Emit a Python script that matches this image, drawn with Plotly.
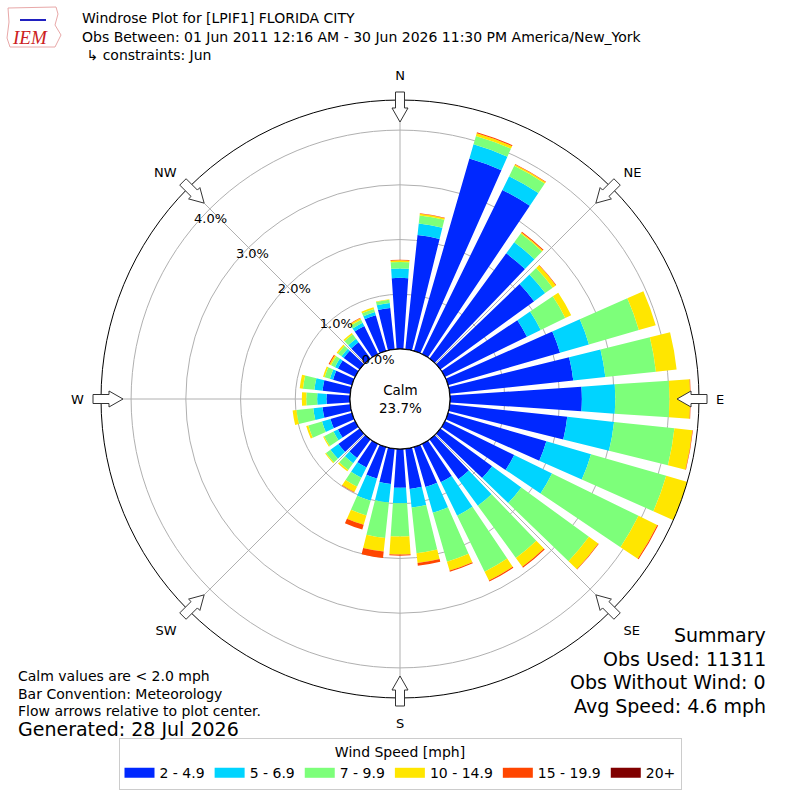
import numpy as np
import plotly.graph_objects as go

# wind rose data: percent of observations per 10 degree direction bin
directions = list(range(0, 360, 10))
speed_bins = ["2 - 4.9", "5 - 6.9", "7 - 9.9", "10 - 14.9", "15 - 19.9", "20+"]
bin_colors = ["#0028ff", "#00d4ff", "#7dff7a", "#ffe600", "#ff4600", "#800000"]

pct_2_5 = [1.30, 2.10, 3.66, 3.34, 2.38, 2.12, 1.67, 2.13, 2.27, 2.41, 2.16, 1.87,
           1.41, 1.17, 0.90, 0.78, 0.76, 0.74, 0.71, 0.65, 0.60, 0.48, 0.42, 0.48,
           0.35, 0.41, 0.51, 0.43, 0.51, 0.36, 0.35, 0.36, 0.37, 0.57, 0.68, 0.76]
pct_5_7 = [0.17, 0.21, 0.27, 0.28, 0.25, 0.25, 0.28, 0.55, 0.59, 0.61, 0.86, 0.85,
           0.77, 0.66, 0.60, 0.68, 0.49, 0.34, 0.28, 0.34, 0.42, 0.21, 0.12, 0.18,
           0.09, 0.16, 0.17, 0.17, 0.15, 0.06, 0.06, 0.05, 0.08, 0.07, 0.06, 0.09]
pct_7_10 = [0.12, 0.15, 0.16, 0.21, 0.20, 0.17, 0.50, 0.95, 0.93, 0.99, 1.11, 1.43,
            1.76, 1.53, 1.18, 1.14, 0.93, 0.84, 0.61, 0.65, 0.28, 0.18, 0.15, 0.10,
            0.19, 0.26, 0.31, 0.20, 0.21, 0.10, 0.08, 0.08, 0.10, 0.06, 0.06, 0.06]
pct_10_15 = [0.03, 0.03, 0.05, 0.03, 0.02, 0.07, 0.12, 0.32, 0.38, 0.38, 0.33, 0.52,
             0.38, 0.21, 0.20, 0.18, 0.17, 0.18, 0.33, 0.25, 0.18, 0.11, 0.03, 0.02,
             0.02, 0.04, 0.07, 0.08, 0.06, 0.03, 0.03, 0.03, 0.03, 0.03, 0.03, 0.01]
pct_15_20 = [0.01, 0.01, 0.02, 0.01, 0.02, 0.01, 0.00, 0.00, 0.00, 0.01, 0.01, 0.02,
             0.02, 0.01, 0.02, 0.02, 0.02, 0.05, 0.02, 0.12, 0.09, 0.01, 0.00, 0.00,
             0.00, 0.00, 0.00, 0.00, 0.00, 0.00, 0.02, 0.00, 0.00, 0.01, 0.00, 0.00]
pct_20_up = [0.0] * 36

calm_pct = 23.7
ring_vals = [0, 1, 2, 3, 4]
ring_label_dir = 310
compass_angles = [0, 45, 90, 135, 180, 225, 270, 315]
compass_labels = ["N", "NE", "E", "SE", "S", "SW", "W", "NW"]

title_lines = [
    "Windrose Plot for [LPIF1] FLORIDA CITY",
    "Obs Between: 01 Jun 2011 12:16 AM - 30 Jun 2026 11:30 PM America/New_York",
    " \u21b3 constraints: Jun",
]
notes_left = ["Calm values are < 2.0 mph", "Bar Convention: Meteorology",
              "Flow arrows relative to plot center."]
summary_lines = ["Summary", "Obs Used: 11311", "Obs Without Wind: 0", "Avg Speed: 4.6 mph"]

RMAX = 4.55
CX, CY, RPX = 400, 399, 299   # polar centre / radius in pixels
HOLE = 50 / RPX

fig = go.Figure()

series = [pct_2_5, pct_5_7, pct_7_10, pct_10_15, pct_15_20, pct_20_up]
for name, color, vals in zip(speed_bins, bin_colors, series):
    fig.add_trace(go.Barpolar(
        r=vals, theta=directions, width=7.8, name=name,
        marker=dict(color=color, line=dict(width=0)),
        showlegend=False, hoverinfo="skip"
    ))

# black edge of the calm hole
fig.add_trace(go.Scatterpolar(
    r=[0] * 361, theta=list(range(361)), mode="lines",
    line=dict(color="black", width=1.2), showlegend=False, hoverinfo="skip"
))

# ring labels
fig.add_trace(go.Scatterpolar(
    r=ring_vals, theta=[ring_label_dir] * len(ring_vals), mode="text",
    text=[f"{v:.1f}%" for v in ring_vals], textposition="top right",
    textfont=dict(size=13, color="black"), showlegend=False, hoverinfo="skip"
))

# legend entries drawn as wide colour patches
for name, color in zip(speed_bins, bin_colors):
    fig.add_trace(go.Scatterpolar(
        r=[None], theta=[None], mode="lines", name=name,
        line=dict(color=color, width=10), hoverinfo="skip"
    ))


def px(x, y):
    return x / 800, 1 - y / 800


# hollow arrows pointing to the centre
shapes = []
for a in compass_angles:
    t = np.radians(a)
    u = np.array([np.sin(t), -np.cos(t)])
    v = np.array([np.cos(t), np.sin(t)])
    pts = [(277, 0), (291, 8), (291, 4.5), (307, 4.5), (307, -4.5), (291, -4.5), (291, -8)]
    path = ""
    for i, (al, ac) in enumerate(pts):
        p = np.array([CX, CY]) + al * u + ac * v
        x, y = px(p[0], p[1])
        path += ("M" if i == 0 else "L") + f"{x:.5f},{y:.5f} "
    shapes.append(dict(type="path", path=path + "Z", xref="paper", yref="paper",
                       fillcolor="white", line=dict(color="#333333", width=1), layer="above"))

# IEM logo (rough)
logo = [(8, 8), (56, 7), (58, 14), (55, 25), (61, 35), (55, 47), (10, 47), (7, 38), (9, 22)]
lp = "".join(("M" if i == 0 else "L") + "{:.5f},{:.5f} ".format(*px(x, y)) for i, (x, y) in enumerate(logo))
shapes.append(dict(type="path", path=lp + "Z", xref="paper", yref="paper",
                   line=dict(color="#e8a8a8", width=1)))
x0, y0 = px(20, 20)
x1, y1 = px(46, 20)
shapes.append(dict(type="line", x0=x0, y0=y0, x1=x1, y1=y1, xref="paper", yref="paper",
                   line=dict(color="#2020c0", width=2)))

ann = []
ann.append(dict(text="<i>IEM</i>", x=30 / 800, y=1 - 37 / 800, xref="paper", yref="paper",
                xanchor="center", yanchor="middle",
                showarrow=False, font=dict(family="Liberation Serif", size=19, color="#cc2020")))
for i, line in enumerate(title_lines):
    ann.append(dict(text=line, x=80 / 800, y=1 - (18 + 18.5 * i) / 800, xref="paper", yref="paper",
                    xanchor="left", yanchor="middle", showarrow=False, font=dict(size=14)))
for i, line in enumerate(notes_left):
    ann.append(dict(text=line, x=16 / 800, y=1 - (676 + 17.5 * i) / 800, xref="paper", yref="paper",
                    xanchor="left", yanchor="middle", showarrow=False, font=dict(size=14)))
ann.append(dict(text="Generated: 28 Jul 2026", x=16 / 800, y=1 - 729 / 800, xref="paper", yref="paper",
                xanchor="left", yanchor="middle", showarrow=False, font=dict(size=19)))
for i, line in enumerate(summary_lines):
    ann.append(dict(text=line, x=768 / 800, y=1 - (635 + 23.7 * i) / 800, xref="paper", yref="paper",
                    xanchor="right", yanchor="middle", showarrow=False, font=dict(size=19)))
ann.append(dict(text=f"Calm<br>{calm_pct}%", x=CX / 800, y=1 - CY / 800, xref="paper", yref="paper",
                xanchor="center", yanchor="middle", showarrow=False, font=dict(size=13.5)))

fig.update_layout(
    width=800, height=800,
    margin=dict(l=0, r=0, t=0, b=0),
    paper_bgcolor="white",
    font=dict(family="DejaVu Sans", size=13, color="black"),
    polar=dict(
        domain=dict(x=[(CX - RPX) / 800, (CX + RPX) / 800],
                    y=[(800 - CY - RPX) / 800, (800 - CY + RPX) / 800]),
        hole=HOLE,
        bgcolor="white",
        barmode="stack",
        angularaxis=dict(
            rotation=90, direction="clockwise",
            tickmode="array", tickvals=compass_angles, ticktext=compass_labels,
            showline=True, linecolor="black", linewidth=1,
            gridcolor="#b0b0b0", gridwidth=1,
            ticks="outside", ticklen=14, tickcolor="rgba(0,0,0,0)",
            tickfont=dict(size=13),
        ),
        radialaxis=dict(
            range=[0, RMAX], tickmode="array", tickvals=ring_vals,
            showticklabels=False, showline=False, ticks="",
            gridcolor="#b0b0b0", gridwidth=1,
        ),
    ),
    legend=dict(
        orientation="h", x=0.5, xanchor="center", y=10 / 800, yanchor="bottom",
        title=dict(text="Wind Speed [mph]", side="top center", font=dict(size=14)),
        bordercolor="#cccccc", borderwidth=1, font=dict(size=14),
        traceorder="normal", itemwidth=30,
    ),
    shapes=shapes,
    annotations=ann,
)

fig.write_html("out.html", config={"displayModeBar": False},
               post_script="document.body.style.margin='0px';")
